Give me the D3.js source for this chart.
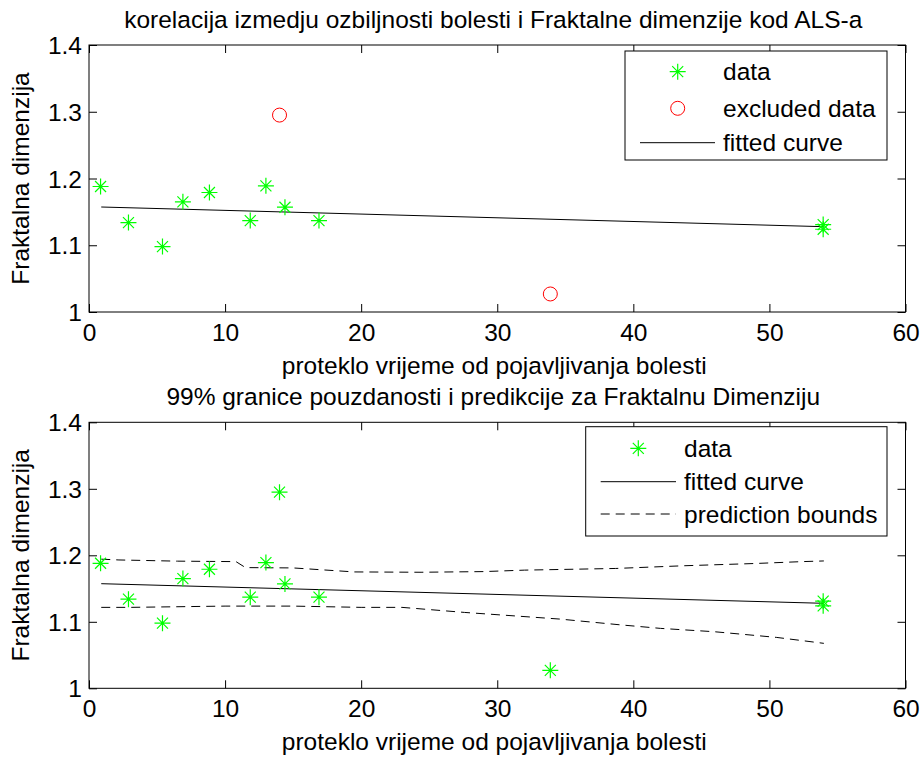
<!DOCTYPE html>
<html><head><meta charset="utf-8">
<script src="https://cdn.jsdelivr.net/npm/d3@7"></script>
<style>
body{margin:0;background:#fff;}
svg text{font-family:"Liberation Sans",Arial,Helvetica,sans-serif;fill:#000;}
</style></head><body>
<svg id="chart" width="923" height="757"></svg>
<script>
// ---- data ----
const dataX = [0.85, 2.9, 5.4, 6.9, 8.85, 11.85, 13.0, 14.4, 16.9, 53.95, 53.95];
const dataY = [1.188, 1.134, 1.098, 1.165, 1.179, 1.137, 1.189, 1.157, 1.137, 1.131, 1.124];
const excludedX = [14.0, 33.9];
const excludedY = [1.295, 1.027];
const fitX = [0.9, 54];
const fitY = [1.1573, 1.1278];
const upperX = [0.9, 2.2, 6.5, 10.8, 11.5, 15, 19.5, 24.4, 29, 32, 38.7, 43.6, 49, 52.4, 54];
const upperY = [1.1942, 1.193, 1.1912, 1.1905, 1.1815, 1.181, 1.175, 1.1745, 1.1755, 1.1777, 1.1802, 1.1842, 1.1877, 1.1905, 1.1915];
const lowerX = [0.9, 3, 10, 15, 20, 23, 27.6, 34.6, 39, 42, 46, 50.5, 54];
const lowerY = [1.1217, 1.1217, 1.1236, 1.1236, 1.1217, 1.1217, 1.1141, 1.1041, 1.0955, 1.0901, 1.085, 1.0766, 1.0676];
const xTicks = [0, 10, 20, 30, 40, 50, 60];
const yTicks = [1, 1.1, 1.2, 1.3, 1.4];
const xLabel = "proteklo vrijeme od pojavljivanja bolesti";
const yLabel = "Fraktalna dimenzija";
const title1 = "korelacija izmedju ozbiljnosti bolesti i Fraktalne dimenzije kod ALS-a";
const title2 = "99% granice pouzdanosti i predikcije za Fraktalnu Dimenziju";
const legend1 = ["data", "excluded data", "fitted curve"];
const legend2 = ["data", "fitted curve", "prediction bounds"];

const svg = d3.select("#chart");
const FS = 24.5;
const GREEN = "#00ff00", RED = "#ff0000";

function star(g, cx, cy) {
  const r = 8, d = 5.5;
  const p = `M${cx - r},${cy}L${cx + r},${cy}M${cx},${cy - r}L${cx},${cy + r}` +
            `M${cx - d},${cy - d}L${cx + d},${cy + d}M${cx - d},${cy + d}L${cx + d},${cy - d}`;
  g.append("path").attr("d", p).attr("stroke", GREEN).attr("stroke-width", 1.2).attr("fill", "none");
}

function panel(cfg) {
  const x = d3.scaleLinear().domain([0, 60]).range([cfg.left, cfg.right]);
  const y = d3.scaleLinear().domain([1, 1.4]).range([cfg.bottom, cfg.top]);
  const g = svg.append("g");
  const T = 8;
  // axes
  const ax = g.append("g").attr("transform", `translate(0,${cfg.bottom})`)
    .call(d3.axisBottom(x).tickValues(xTicks).tickFormat(d3.format("d")).tickSizeInner(-T).tickSizeOuter(0));
  ax.selectAll("text").attr("y", 29).attr("dy", null).style("font-size", FS + "px");
  g.append("g").attr("transform", `translate(0,${cfg.top})`)
    .call(d3.axisTop(x).tickValues(xTicks).tickFormat("").tickSizeInner(-T).tickSizeOuter(0));
  const ay = g.append("g").attr("transform", `translate(${cfg.left},0)`)
    .call(d3.axisLeft(y).tickValues(yTicks).tickFormat(d => d === 1 ? "1" : d3.format(".1f")(d)).tickSizeInner(-T).tickSizeOuter(0).tickPadding(7));
  ay.selectAll("text").style("font-size", FS + "px").attr("dy", "0.35em");
  g.append("g").attr("transform", `translate(${cfg.right},0)`)
    .call(d3.axisRight(y).tickValues(yTicks).tickFormat("").tickSizeInner(-T).tickSizeOuter(0));
  g.selectAll(".domain").remove();
  g.selectAll(".tick line").attr("stroke", "#000");
  g.append("rect").attr("x", cfg.left).attr("y", cfg.top)
    .attr("width", cfg.right - cfg.left).attr("height", cfg.bottom - cfg.top)
    .attr("fill", "none").attr("stroke", "#000").attr("stroke-width", 1);

  // texts
  g.append("text").attr("x", (cfg.left + cfg.right) / 2 - 4).attr("y", cfg.top - 17)
    .attr("text-anchor", "middle").style("font-size", FS + "px").text(cfg.title);
  g.append("text").attr("x", (cfg.left + cfg.right) / 2 - 3).attr("y", cfg.bottom + 62)
    .attr("text-anchor", "middle").style("font-size", FS + "px").text(xLabel);
  g.append("text").attr("transform", `translate(29,${(cfg.top + cfg.bottom) / 2}) rotate(-90)`)
    .attr("text-anchor", "middle").style("font-size", FS + "px").text(yLabel);

  const line = d3.line().x(d => x(d[0])).y(d => y(d[1]));
  const fitPts = fitX.map((v, i) => [v, fitY[i]]);
  g.append("path").attr("d", line(fitPts)).attr("stroke", "#000").attr("stroke-width", 1).attr("fill", "none");

  if (cfg.bounds) {
    [[upperX, upperY], [lowerX, lowerY]].forEach(([bx, by]) => {
      g.append("path").attr("d", line(bx.map((v, i) => [v, by[i]])))
        .attr("stroke", "#000").attr("stroke-width", 1).attr("stroke-dasharray", "9,6").attr("fill", "none");
    });
  }

  const allX = cfg.bounds ? dataX.concat(excludedX) : dataX;
  const allY = cfg.bounds ? dataY.concat(excludedY) : dataY;
  allX.forEach((v, i) => star(g, x(v), y(allY[i])));
  if (!cfg.bounds) {
    excludedX.forEach((v, i) => g.append("circle").attr("cx", x(v)).attr("cy", y(excludedY[i])).attr("r", 7)
      .attr("fill", "none").attr("stroke", RED).attr("stroke-width", 1));
  }

  // legend
  const L = cfg.legend;
  g.append("rect").attr("x", L.x0).attr("y", L.y0).attr("width", L.x1 - L.x0).attr("height", L.y1 - L.y0)
    .attr("fill", "#fff").attr("stroke", "#000").attr("stroke-width", 1);
  cfg.legendItems.forEach((name, i) => {
    const ry = L.rows[i];
    g.append("text").attr("x", L.tx).attr("y", ry).attr("dy", "0.35em").style("font-size", FS + "px").text(name);
    const kind = cfg.legendKinds[i];
    if (kind === "star") star(g, L.mx, ry);
    else if (kind === "circle") g.append("circle").attr("cx", L.mx).attr("cy", ry).attr("r", 7)
      .attr("fill", "none").attr("stroke", RED).attr("stroke-width", 1);
    else g.append("line").attr("x1", L.lx0).attr("x2", L.lx1).attr("y1", ry).attr("y2", ry)
      .attr("stroke", "#000").attr("stroke-width", 1).attr("stroke-dasharray", kind === "dash" ? "9,6" : null);
  });
}

panel({
  left: 89, right: 905.5, top: 45, bottom: 312, title: title1, bounds: false,
  legendItems: legend1, legendKinds: ["star", "circle", "line"],
  legend: {x0: 625, x1: 887, y0: 51, y1: 160, rows: [71.7, 108.3, 142.7], tx: 723, mx: 677.7, lx0: 640, lx1: 715}
});
panel({
  left: 89, right: 905.5, top: 422.3, bottom: 688.3, title: title2, bounds: true,
  legendItems: legend2, legendKinds: ["star", "line", "dash"],
  legend: {x0: 585.7, x1: 887, y0: 426.7, y1: 536, rows: [448.3, 481.7, 514], tx: 684, mx: 638.3, lx0: 600.7, lx1: 676}
});
</script>
</body></html>
